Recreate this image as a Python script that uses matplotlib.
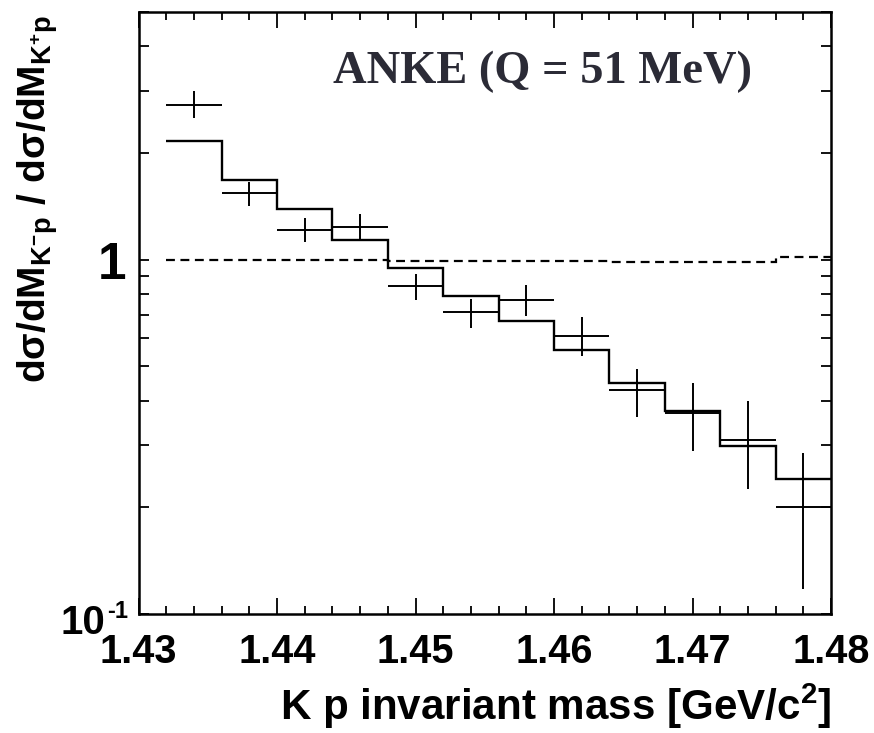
import numpy as np
import matplotlib
matplotlib.use("Agg")
import matplotlib.pyplot as plt
from matplotlib.ticker import MultipleLocator, LogLocator, NullFormatter, FixedLocator
import matplotlib.transforms as mtransforms

plt.rcParams['font.family'] = ['Liberation Sans', 'DejaVu Sans']
plt.rcParams['mathtext.fontset'] = 'custom'
plt.rcParams['mathtext.rm'] = 'Liberation Sans:bold'
plt.rcParams['mathtext.bf'] = 'Liberation Sans:bold'
plt.rcParams['mathtext.it'] = 'Liberation Sans:bold'
plt.rcParams['mathtext.sf'] = 'Liberation Sans:bold'

# ---- data ----
bin_edges = [1.432, 1.436, 1.440, 1.444, 1.448, 1.452, 1.456,
             1.460, 1.464, 1.468, 1.472, 1.476, 1.480]
mass = [1.434, 1.438, 1.442, 1.446, 1.450, 1.454,
        1.458, 1.462, 1.466, 1.470, 1.474, 1.478]
ratio = [2.73, 1.54, 1.21, 1.24, 0.84, 0.71, 0.77, 0.61, 0.43, 0.37, 0.31, 0.20]
ratio_hi = [3.00, 1.66, 1.31, 1.345, 0.91, 0.775, 0.85, 0.69, 0.49, 0.45, 0.40, 0.285]
ratio_lo = [2.51, 1.42, 1.12, 1.136, 0.77, 0.64, 0.695, 0.533, 0.36, 0.288, 0.225, 0.118]
bin_half = [0.002] * 12
model = [2.16, 1.68, 1.39, 1.14, 0.95, 0.79, 0.67, 0.557, 0.45, 0.373, 0.298, 0.24]
flat = [1.0, 1.0, 1.0, 1.0, 0.99, 0.99, 0.99, 0.99, 0.985, 0.985, 0.985, 1.015]

x_ticks = [1.43, 1.44, 1.45, 1.46, 1.47, 1.48]
x_ticklabels = ["1.43", "1.44", "1.45", "1.46", "1.47", "1.48"]
y_ticks = [0.1, 1.0]
y_ticklabels = ["", "1"]

W, H = 874, 733
fig = plt.figure(figsize=(W / 100, H / 100), dpi=100)
ax = fig.add_axes([138.5 / W, (H - 614) / H, (831 - 138.5) / W, (614 - 12) / H])

ax.set_yscale('log')
ax.set_xlim(1.43, 1.48)
ax.set_ylim(0.1, 5.0)

# histogram (model)
ax.stairs(model, bin_edges, baseline=None, color='black', lw=1.7)
# dashed reference
ax.stairs(flat, bin_edges, baseline=None, color='black', lw=1.6, linestyle=(0, (4, 2.5)))
# data points with error bars
r = np.array(ratio)
yerr = [r - np.array(ratio_lo), np.array(ratio_hi) - r]
ax.errorbar(mass, ratio, xerr=bin_half, yerr=yerr, fmt='none',
            ecolor='black', elinewidth=1.4, capsize=0)

# ticks
ax.xaxis.set_major_locator(FixedLocator(x_ticks))
ax.set_xticklabels(x_ticklabels)
ax.xaxis.set_minor_locator(MultipleLocator(0.002))
ax.yaxis.set_major_locator(FixedLocator(y_ticks))
ax.set_yticklabels(y_ticklabels)
ax.yaxis.set_minor_locator(LogLocator(base=10, subs=np.arange(2, 10)))
ax.yaxis.set_minor_formatter(NullFormatter())

ax.tick_params(axis='both', which='both', direction='in', top=True, right=True, color='black')
ax.tick_params(axis='x', which='major', length=11.5, width=1.3, labelsize=28.5, pad=14)
ax.tick_params(axis='x', which='minor', length=6, width=1.3)
ax.tick_params(axis='y', which='both', length=7.5, width=1.3)
ax.tick_params(axis='y', which='major', labelsize=37, pad=9)
for lab in ax.get_xticklabels() + ax.get_yticklabels():
    lab.set_fontweight('bold')

# 10^-1 label at the lowest y tick
ytr = ax.get_yaxis_transform()
off_main = mtransforms.ScaledTranslation(-33 / 100, -20 / 100, fig.dpi_scale_trans)
ax.text(0.0, y_ticks[0], "10", transform=ytr + off_main, ha='right', va='baseline',
        fontsize=29, fontweight='bold', clip_on=False)
off_sup = mtransforms.ScaledTranslation(-31 / 100, -4 / 100, fig.dpi_scale_trans)
ax.text(0.0, y_ticks[0], "-1", transform=ytr + off_sup, ha='left', va='baseline',
        fontsize=17, fontweight='bold', clip_on=False)

for s in ax.spines.values():
    s.set_linewidth(1.8)

# annotation
ax.text(0.281, 0.882, "ANKE (Q = 51 MeV)", transform=ax.transAxes,
        fontsize=33.5, fontweight='bold', family=['Liberation Serif', 'DejaVu Serif'],
        color='#2b2b36', ha='left', va='baseline')

# axis labels
fig.text(831 / W, (H - 720) / H, r"K p invariant mass [GeV/c$^{2}$]",
         ha='right', va='baseline', fontsize=30.3, fontweight='bold')
fig.text(38 / W, 1 - 199 / H,
         r"$\mathrm{d\sigma/dM_{K^{-}p}\ /\ d\sigma/dM_{K^{+}p}}$",
         rotation=90, ha='center', va='center', fontsize=28)

fig.savefig("out.png", dpi=100)
